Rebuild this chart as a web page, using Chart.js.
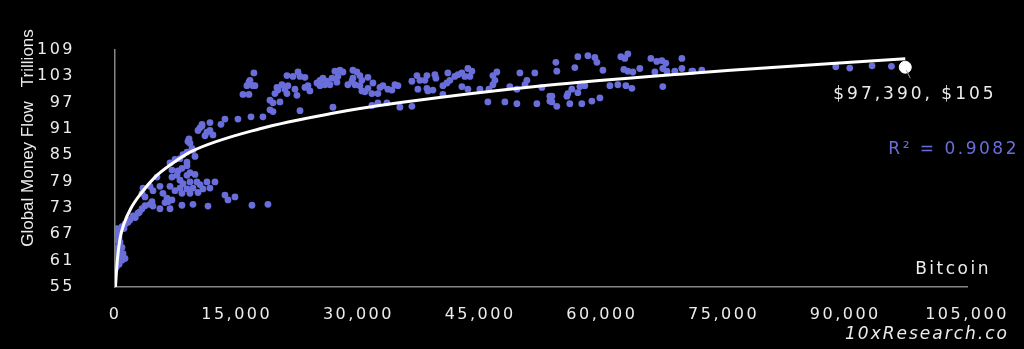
<!DOCTYPE html>
<html>
<head>
<meta charset="utf-8">
<script src="https://cdn.jsdelivr.net/npm/chart.js@4/dist/chart.umd.min.js"></script>
<style>
  html, body { margin: 0; padding: 0; background: #000; }
  #wrap { width: 1024px; height: 349px; }
</style>
</head>
<body>
<div id="wrap"><canvas id="flowChart" width="1024" height="349"></canvas></div>
<script>
// bitcoin price (USD) vs global money flow (trillions)
const btcPrice = [
  250, 370, 490, 620, 860, 990, 1230, 860, 370, 200, 150, 250, 300, 200, 400, 600, 150, 500, 700, 300,
  3330, 2830, 2220, 1850, 1600, 1230, 860, 2500, 3000, 3700, 1100,
  4560, 4680, 4310, 5910, 6410, 7020, 6160, 6530, 5540, 6780, 8250, 9610, 11460,
  13550, 13920, 14780, 16880, 18850,
  5170, 4310, 5540, 3450, 3330, 3700, 4680, 6780,
  8010, 8380, 9240, 10100, 10470, 11330, 12320, 10840, 9610, 8870, 8010, 7390, 8250, 9240, 10230, 11700,
  7020, 7760, 8250, 9240, 9860, 7640, 8870, 7020, 8870,
  7390, 6780, 8010, 9860, 8870, 8380, 9490, 8870, 9610, 9120, 9240, 8990,
  11700, 10720, 10470, 10230, 11330, 11700, 12070, 11090, 10720,
  13060, 13550, 15150, 16760, 15770, 16510, 16630, 16260, 17000, 16510, 17120,
  17250, 21190, 21930, 22550, 22800, 23410,
  20570, 19960, 20080, 19710, 20940, 21310, 22180, 21190, 22420,
  19100, 19470, 20330, 19100, 19470, 18230, 22800, 26860,
  24020, 23410, 23780, 24890, 25260, 25630, 26120, 26740, 27100, 27720, 28090, 27470, 27350, 26490, 25870, 25260,
  29320, 29810, 30180, 29320, 29200, 28700, 29570, 30430, 31170, 30180,
  31790, 31170, 30800, 30430, 31660, 32400, 32650,
  33020, 33630, 34130, 34500, 34870, 31660, 32400, 33510, 35110,
  36590, 37210, 36590, 37580, 38190, 38440, 39420, 39550,
  37330, 38440, 38560, 39180, 40410, 40410, 40900, 41270, 41020, 41880, 42260, 42750, 43120, 43490, 43980, 43740, 42750, 43490, 44970,
  46080, 46570, 46820, 46570, 47060, 45950, 48050, 49530, 48660, 49530, 49900, 50760, 50520, 51740, 51990, 52610, 53590, 53590,
  54330, 54450, 57040, 58280, 59140, 59390, 56670, 60130,
  62340, 62830, 63200, 66040, 66770, 67390, 67880, 69860,
  62710, 63200, 63820, 64680, 66530, 67510, 68010, 68990, 69860, 71090,
  56300, 57290, 57900, 55810, 55690, 57040, 53840, 53840, 54450, 56050, 57530, 58770, 59760,
  60990, 61970, 62960, 63700, 67510,
  71210, 72320, 88830, 90550, 93300, 95690
];
const moneyFlow = [
  68.3, 67.3, 66.2, 65.2, 64.0, 62.6, 61.5, 61.1, 61.1, 60.5, 59.5, 62.6, 64.0, 65.6, 63.2, 67.8, 61.8, 60.2, 62.0, 66.8,
  72.8, 71.8, 71.2, 70.3, 69.7, 69.3, 68.7, 70.8, 72.0, 73.5, 68.3,
  74.4, 73.4, 73.8, 76.3, 75.2, 74.8, 74.2, 74.4, 72.8, 72.8, 73.6, 73.8, 73.4,
  75.9, 74.8, 75.5, 73.6, 73.8,
  80.0, 77.9, 77.9, 77.5, 76.3, 75.5, 76.9, 77.9,
  79.3, 78.5, 78.9, 78.9, 78.3, 78.9, 78.9, 77.3, 77.5, 77.3, 77.5, 76.9, 76.3, 76.3, 76.5, 77.5,
  81.6, 81.4, 82.0, 81.0, 80.6, 80.4, 80.4, 80.0, 82.6,
  84.0, 83.2, 84.2, 84.7, 83.4, 85.1, 86.5, 85.7, 86.1, 88.7, 87.7, 88.1,
  92.4, 92.0, 91.2, 90.6, 90.2, 90.6, 89.6, 89.4, 91.6,
  92.0, 93.2, 93.2, 93.7, 98.8, 98.8, 102.0, 100.8, 100.8, 101.6, 103.7,
  100.8, 103.1, 102.9, 103.9, 102.9, 102.7,
  101.0, 100.4, 99.8, 99.0, 100.0, 100.8, 100.0, 99.0, 98.6,
  97.5, 96.9, 97.1, 95.3, 94.9, 93.7, 95.1, 95.9,
  99.6, 100.4, 100.8, 101.4, 102.0, 102.5, 101.8, 102.5, 104.1, 104.3, 103.9, 102.9, 101.6, 101.0, 101.0, 100.8,
  104.3, 103.9, 103.1, 102.5, 101.8, 101.0, 101.0, 102.0, 102.7, 100.8,
  101.4, 100.2, 99.4, 99.6, 99.0, 99.0, 100.4,
  100.8, 100.0, 99.8, 101.0, 100.8, 96.3, 96.9, 96.9, 95.9,
  96.1, 103.1, 101.8, 102.0, 102.0, 103.1, 103.3, 102.5,
  100.0, 100.2, 99.6, 99.8, 98.8, 100.8, 101.4, 102.0, 103.7, 102.9, 103.3, 103.7, 102.9, 104.7, 104.1, 102.9, 100.6, 100.0, 100.0,
  100.0, 101.0, 102.0, 103.1, 103.9, 97.1, 97.1, 96.7, 100.6, 100.0, 103.7, 102.0, 101.0, 103.7, 96.7, 100.4, 98.4, 97.3,
  106.1, 104.1, 107.4, 107.6, 107.2, 106.1, 104.9, 104.3,
  107.4, 107.0, 108.0, 107.0, 106.3, 106.5, 105.9, 107.0,
  104.5, 104.1, 103.9, 104.7, 103.9, 104.7, 104.1, 104.1, 104.7, 104.1,
  100.0, 100.6, 100.8, 99.0, 98.4, 99.2, 98.4, 97.1, 96.1, 96.7, 96.7, 97.3, 98.0,
  100.8, 101.0, 100.8, 100.2, 100.6,
  104.1, 104.3, 105.1, 104.8, 105.3, 105.2
];

// trend line as it appears in the picture
const trendPrice = [60, 85, 290, 620, 1110, 1930, 3290, 4930, 6980, 9490, 17860, 26490, 35420, 53290, 71460, 75880, 97390];
const trendFlow  = [55, 55.8, 61.2, 66.0, 69.4, 72.8, 76.5, 80.0, 83.0, 85.9, 91.0, 94.4, 97.0, 100.9, 103.7, 104.3, 106.9];

const latestPrice = 97390;
const latestFlow = 105;

const xTicks = [0, 15000, 30000, 45000, 60000, 75000, 90000, 105000];
const yTicks = [55, 61, 67, 73, 79, 85, 91, 97, 103, 109];

const dotColor = 'rgb(106,110,218)';
const textColor = '#ececec';
const axisColor = '#858585';
const spacedFont = '"DejaVu Sans", sans-serif';

const scatterPoints = btcPrice.map((x, i) => ({ x: x, y: moneyFlow[i] }));
const trendPoints = trendPrice.map((x, i) => ({ x: x, y: trendFlow[i] }));

const extrasPlugin = {
  id: 'extras',
  beforeDraw(chart) {
    chart.ctx.letterSpacing = '2.5px';
  },
  afterDraw(chart) {
    const ctx = chart.ctx;
    const px = chart.scales.x.getPixelForValue(latestPrice);
    const py = chart.scales.y.getPixelForValue(latestFlow);
    ctx.save();

    // leader line + label for latest point
    ctx.strokeStyle = '#9a9a9a';
    ctx.lineWidth = 1;
    ctx.beginPath();
    ctx.moveTo(px + 1, py + 3);
    ctx.lineTo(px + 5, py + 11);
    ctx.stroke();

    ctx.fillStyle = textColor;
    ctx.textBaseline = 'middle';
    ctx.letterSpacing = '3px';
    ctx.font = '17px ' + spacedFont;
    ctx.textAlign = 'left';
    ctx.fillText('$97,390, $105', px - 72, py + 27);

    // R squared
    ctx.fillStyle = dotColor;
    ctx.letterSpacing = '2.5px';
    ctx.textAlign = 'right';
    ctx.fillText('R² = 0.9082', 1019, 150);

    // axis name for x
    ctx.fillStyle = textColor;
    ctx.font = '17px ' + spacedFont;
    ctx.fillText('Bitcoin', 991, 270);

    // watermark
    ctx.letterSpacing = '2px';
    ctx.font = 'italic 17px ' + spacedFont;
    ctx.fillText('10xResearch.co', 1009, 335);

    // y axis title
    ctx.letterSpacing = '0px';
    ctx.translate(28, 138);
    ctx.rotate(-Math.PI / 2);
    ctx.textAlign = 'center';
    ctx.font = '17px "Liberation Sans Narrow", "Liberation Sans", sans-serif';
    ctx.fillText('Global Money Flow   Trillions', 0, 0);
    ctx.restore();
  }
};

new Chart(document.getElementById('flowChart'), {
  type: 'scatter',
  data: {
    datasets: [
      {
        label: 'Latest',
        data: [{ x: latestPrice, y: latestFlow }],
        backgroundColor: '#ffffff',
        borderColor: '#ffffff',
        pointRadius: 6,
        order: 0
      },
      {
        label: 'Trend',
        type: 'line',
        data: trendPoints,
        borderColor: '#ffffff',
        borderWidth: 3,
        pointRadius: 0,
        cubicInterpolationMode: 'monotone',
        fill: false,
        order: 1
      },
      {
        label: 'Global Money Flow',
        data: scatterPoints,
        backgroundColor: dotColor,
        borderColor: dotColor,
        pointRadius: 3.4,
        borderWidth: 0,
        order: 2
      }
    ]
  },
  options: {
    responsive: false,
    animation: false,
    layout: { padding: { top: 23, right: 57, left: 0, bottom: 0 } },
    plugins: {
      legend: { display: false },
      tooltip: { enabled: false }
    },
    scales: {
      x: {
        type: 'linear',
        min: 0,
        max: 105000,
        afterFit(scale) { scale.height = 62; },
        afterBuildTicks(scale) { scale.ticks = xTicks.map(v => ({ value: v })); },
        grid: { display: false, drawTicks: false },
        border: { display: true, color: axisColor, width: 1.5 },
        ticks: {
          color: textColor,
          padding: 18,
          maxRotation: 0,
          font: { family: spacedFont, size: 16 },
          callback: v => v.toLocaleString('en-US')
        }
      },
      y: {
        min: 55,
        max: 109,
        afterFit(scale) { scale.width = 115; },
        afterBuildTicks(scale) { scale.ticks = yTicks.map(v => ({ value: v })); },
        grid: { display: false, drawTicks: false },
        border: { display: true, color: axisColor, width: 1.5 },
        ticks: {
          color: textColor,
          padding: 40,
          font: { family: spacedFont, size: 16 }
        }
      }
    }
  },
  plugins: [extrasPlugin]
});
</script>
</body>
</html>
